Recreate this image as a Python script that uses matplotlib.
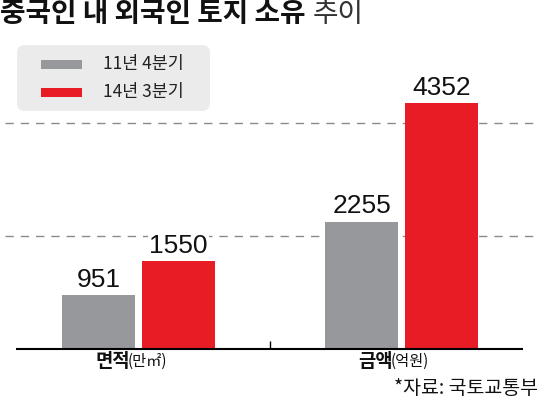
import matplotlib
matplotlib.use('Agg')
import numpy as np
import matplotlib.pyplot as plt
from matplotlib.patches import FancyBboxPatch, Rectangle

# data
categories = ['면적', '금액']
units = ['(만㎡)', '(억원)']
series_names = ['11년 4분기', '14년 3분기']
q4_2011 = [951, 2255]
q3_2014 = [1550, 4352]
colors = ['#97989c', '#e81c25']
grid_vals = [2000, 4000]

W, H = 540, 399
fig = plt.figure(figsize=(W / 100, H / 100), dpi=100)

def fx(px):
    return px / W

def fy(py):
    return 1 - py / H

kr = ['Noto Sans CJK KR', 'DejaVu Sans']
num = ['Liberation Sans', 'DejaVu Sans']

#%% bars
ax = fig.add_axes([fx(5), fy(349), fx(530), 260 / H])
x = np.arange(len(categories))
w, off = 0.274, 0.152
b1 = ax.bar(x - off, q4_2011, w, color=colors[0], zorder=2)
b2 = ax.bar(x + off, q3_2014, w, color=colors[1], zorder=2)
ax.set_xlim(-0.5076, 1.5076)
ax.set_ylim(0, 4600)
for s in ax.spines.values():
    s.set_visible(False)
ax.set_yticks([])
ax.set_xticks([0.5])
ax.tick_params(axis='x', direction='in', length=6, width=1, color='black', labelbottom=False)
for g in grid_vals:
    ax.axhline(g, color='#8a8a8a', lw=1, ls=(0, (6, 5)), zorder=1)
ax.hlines(0, -0.466, 1.462, color='black', lw=1.5, zorder=3, clip_on=False)

for bars, vals in [(b1, q4_2011), (b2, q3_2014)]:
    for bar, v in zip(bars, vals):
        ax.annotate(str(v), (bar.get_x() + bar.get_width() / 2, v), xytext=(0, 6),
                    textcoords='offset points', ha='center', va='baseline',
                    fontsize=19, family=num, color='#111111',
                    bbox=dict(fc='white', ec='none', pad=1), zorder=4)

tr = ax.get_xaxis_transform()
for i in range(len(categories)):
    ax.text(x[i] - 0.034, -0.048, categories[i], transform=tr, ha='right', va='center',
            fontsize=13.5, weight='bold', family=kr, color='#111111')
    ax.text(x[i] - 0.040, -0.048, units[i], transform=tr, ha='left', va='center',
            fontsize=11, family=kr, color='#111111')

#%% legend box
inch = fig.dpi_scale_trans
fig.patches.append(FancyBboxPatch((0.17, (H - 111) / 100), 1.93, 0.66,
                                  boxstyle='round,pad=0,rounding_size=0.08',
                                  transform=inch, fc='#ebebeb', ec='none', zorder=0))
for i, (name, c) in enumerate(zip(series_names, colors)):
    yc = 64 + 28 * i
    fig.patches.append(Rectangle((0.41, (H - yc - 4.5) / 100), 0.41, 0.09,
                                 transform=inch, fc=c, ec='none', zorder=1))
    fig.text(fx(103), fy(yc), name, ha='left', va='center', fontsize=12.5,
             family=kr, color='#222222')

#%% title and source
t = fig.text(fx(0), fy(14), '중국인 내 외국인 토지 소유', ha='left', va='center',
             fontsize=20, weight='bold', family=kr, color='#111111')
fig.canvas.draw()
bb = t.get_window_extent()
fig.text((bb.x1 + 7) / W, fy(14), '추이', ha='left', va='center',
         fontsize=20, weight='light', family=kr, color='#333333')
fig.text(fx(538), fy(389), '*자료: 국토교통부', ha='right', va='center',
         fontsize=14, family=kr, color='#111111')

fig.savefig('out.png', dpi=100)
